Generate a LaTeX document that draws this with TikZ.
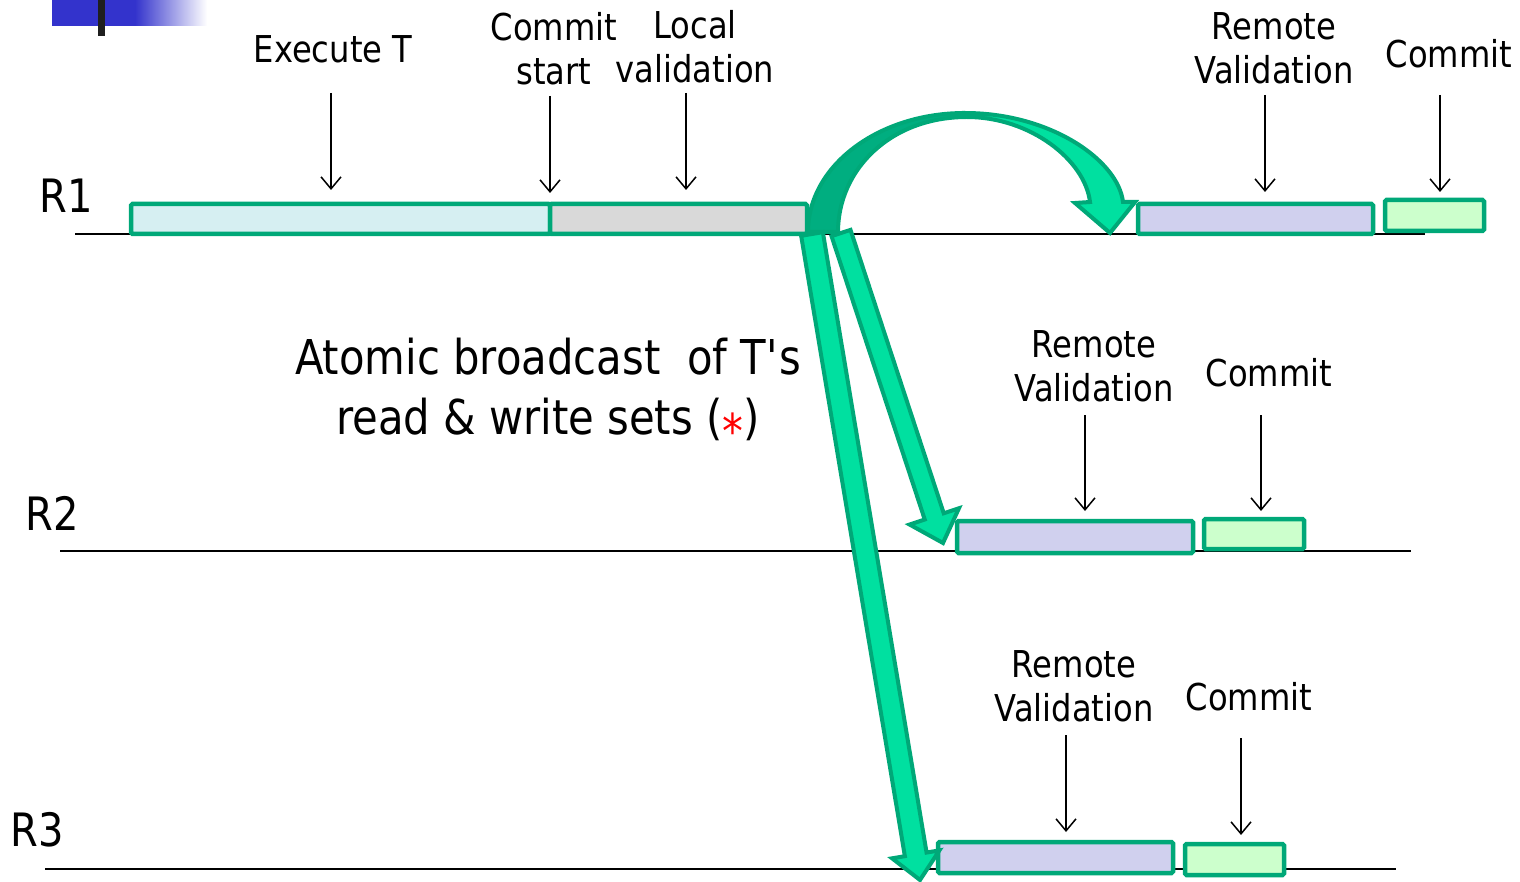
\documentclass[tikz,border=0pt]{standalone}
\usepackage{fontspec}
\setmainfont{DejaVu Sans}[FakeStretch=0.87]
\usetikzlibrary{arrows.meta,calc}
\definecolor{cBorder}{HTML}{00A878}
\definecolor{cArrow}{HTML}{00E0A0}
\definecolor{cArrowLine}{HTML}{00A878}
\definecolor{cArrowDark}{HTML}{00AE80}
\definecolor{cExec}{HTML}{D6EFF2}
\definecolor{cLocal}{HTML}{D9D9D9}
\definecolor{cRemote}{HTML}{D0D0EE}
\definecolor{cCommit}{HTML}{CCFFCC}
\definecolor{cBlue}{HTML}{3333CC}
\tikzset{
 box/.style={draw=cBorder, line width=4.5pt, rounded corners=1.5pt, inner sep=0pt, outer sep=0pt, anchor=north west},
 lbl/.style={font=\fontsize{37}{44}\selectfont, align=center, inner sep=0pt},
 rlbl/.style={font=\fontsize{46}{50}\selectfont, inner sep=0pt},
 biglbl/.style={font=\fontsize{48}{60}\selectfont, align=center, inner sep=0pt},
 darr/.style={line width=1.5pt, -{Straight Barb[length=12pt,width=20pt]}},
 tline/.style={line width=1.5pt},
 fat/.style={fill=cArrow, draw=cArrowLine, line width=4pt, line join=miter},
}
\newcommand\bx[6]{\node[box, fill=#2, minimum width={(#5-#3)*1pt}, minimum height={(#6-#4)*1pt}] (#1) at (#3,#4) {};}
\newcommand\fatarrow[5]{%
 \coordinate (hb) at ($(#2)!#5!(#1)$);
 \filldraw[fat] ($(#1)!#3!90:(#2)$) -- ($(hb)!#3!90:(#2)$) -- ($(hb)!#4!90:(#2)$) -- (#2)
   -- ($(hb)!#4!-90:(#2)$) -- ($(hb)!#3!-90:(#2)$) -- ($(#1)!#3!-90:(#2)$) -- cycle;}
\begin{document}
\begin{tikzpicture}[x=1pt,y=-1pt]
\useasboundingbox (0,0) rectangle (1520,882);
% corner decoration
\fill[cBlue] (52,0) rectangle (136,26);
\shade[left color=cBlue, right color=white] (135,0) rectangle (207,26);
\fill[black!88] (98,0) rectangle (105,36);
% timelines
\draw[tline] (75,234) -- (1425,234);
\draw[tline] (60,551) -- (1411,551);
\draw[tline] (45,869) -- (1396,869);
\node[rlbl] (r1) at (66,196) {R1};
\node[rlbl] (r2) at (52,513) {R2};
\node[rlbl] (r3) at (37,830) {R3};
% boxes
\bx{exec}{cExec}{131}{204}{550}{234}
\bx{local}{cLocal}{550}{204}{807}{234}
\bx{rv1}{cRemote}{1138}{204}{1373}{234}
\bx{cm1}{cCommit}{1385}{200}{1484}{231}
\bx{rv2}{cRemote}{957}{521}{1193}{553}
\bx{cm2}{cCommit}{1204}{519}{1304}{549}
\bx{rv3}{cRemote}{938}{842}{1173}{873}
\bx{cm3}{cCommit}{1185}{844}{1284}{875}
% curved broadcast arrow (R1 -> R1)
\filldraw[fill=cArrowDark, draw=cArrowLine, line width=4pt, line join=round]
  (808,232) .. controls (808,166) and (878,113) .. (965,113)
  -- (967,117) .. controls (890,117) and (838,170) .. (838,232) -- cycle;
\filldraw[fat]
  (965,113) .. controls (1050,113) and (1118,160) .. (1123,202)
  -- (1135,202) -- (1110,233) -- (1075,203) -- (1090,202)
  .. controls (1085,160) and (1030,117) .. (967,117) -- cycle;
% straight broadcast arrows
\coordinate (t3a) at (812,234); \coordinate (t3b) at (920,880);
\fatarrow{t3a}{t3b}{11pt}{24pt}{26pt}
\coordinate (t2a) at (841,233); \coordinate (t2b) at (943,543);
\fatarrow{t2a}{t2b}{10pt}{26pt}{28pt}
% labels
\node[lbl] (lexec) at (333,49) {Execute T};
\node[lbl] (lcs) at (554,49) {Commit\\start};
\node[lbl] (llv) at (695,47) {Local\\validation};
\node[lbl] (lrv1) at (1274,48) {Remote\\Validation};
\node[lbl] (lcm1) at (1449,54) {Commit};
\node[lbl] (lrv2) at (1094,366) {Remote\\Validation};
\node[lbl] (lcm2) at (1269,373) {Commit};
\node[lbl] (lrv3) at (1074,686) {Remote\\Validation};
\node[lbl] (lcm3) at (1249,697) {Commit};
\node[biglbl] (bcast) at (548,393) {Atomic broadcast~ of T\textquotesingle s\\read \& write sets ({\color{red}\raisebox{-0.3em}{*}})};
% pointer arrows
\foreach \n/\x/\ya/\yb in {pe/331/93/190, pc/550/96/193, pl/686/93/190, pr1/1265/95/192, pm1/1440/95/192,
  pr2/1085/415/511, pm2/1261/415/511, pr3/1066/735/832, pm3/1241/738/835}{
  \coordinate (\n s) at (\x,\ya);
  \coordinate (\n e) at (\x,\yb);
  \draw[darr] (\n s) -- (\n e);
}
\end{tikzpicture}
\end{document}
